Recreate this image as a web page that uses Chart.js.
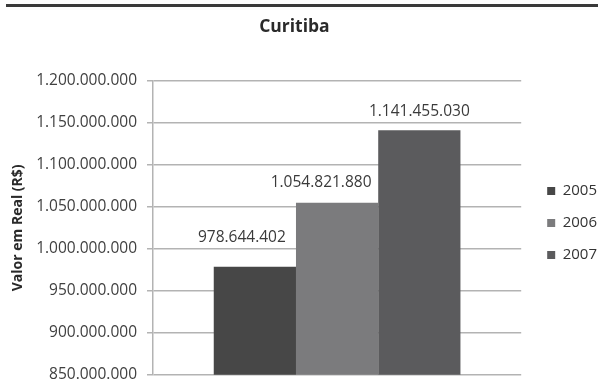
<!DOCTYPE html>
<html lang="pt-BR">
<head>
<meta charset="utf-8">
<title>Curitiba</title>
<script src="https://cdn.jsdelivr.net/npm/chart.js@4.4.1/dist/chart.umd.min.js"></script>
<style>
  html, body { margin: 0; padding: 0; background: #fff; overflow: hidden; }
  #quadro { position: relative; width: 598px; height: 381px; overflow: hidden; }
  #quadro .linha { position: absolute; left: 6px; right: 0; top: 4px; height: 3px; background: #3a3a3a; }
  #caixa { position: absolute; left: 0; top: 0; width: 598px; height: 394px; }
</style>
</head>
<body>
<div id="quadro">
  <div class="linha"></div>
  <div id="caixa"><canvas id="grafico"></canvas></div>
</div>
<script>
// Valor em real por ano - Curitiba
const anos = ['2005', '2006', '2007'];
const valores = [978644402, 1054821880, 1141455030];
const cores = ['#474747', '#7b7b7d', '#5b5b5d'];

// eixo Y
const eixoMin = 850000000;
const eixoMax = 1200000000;
const eixoPasso = 50000000;

const fonte = "'Open Sans', 'Liberation Sans', sans-serif";

// 1234567 -> 1.234.567
function pontos(v) {
    return Math.round(v).toString().replace(/\B(?=(\d{3})+(?!\d))/g, '.');
}

// escreve o valor em cima de cada barra
const rotulos = {
    id: 'rotulos',
    afterDatasetsDraw(chart, args, opts) {
        const ctx = chart.ctx;
        ctx.save();
        ctx.font = '15.5px ' + fonte;
        ctx.fillStyle = opts.cor;
        ctx.textAlign = 'center';
        ctx.textBaseline = 'middle';
        chart.data.datasets.forEach((ds, i) => {
            const barra = chart.getDatasetMeta(i).data[0];
            ctx.fillText(pontos(ds.data[0]), barra.x + opts.desvioX[i], barra.y - opts.desvioY[i]);
        });
        ctx.restore();
    }
};

const datasets = anos.map((ano, i) => ({
    label: ano,
    data: [valores[i]],
    backgroundColor: cores[i],
    borderWidth: 0,
    categoryPercentage: 0.67,
    barPercentage: 1.0
}));

new Chart(document.getElementById('grafico'), {
    type: 'bar',
    data: {
        labels: [''],
        datasets: datasets
    },
    plugins: [rotulos],
    options: {
        responsive: true,
        maintainAspectRatio: false,
        animation: false,
        layout: {
            padding: { top: 9, left: 0, right: -9, bottom: 0 }
        },
        plugins: {
            title: {
                display: true,
                text: 'Curitiba\u00a0\u00a0\u00a0\u00a0',
                color: '#2a2a2a',
                font: { family: fonte, size: 17.5, weight: 'bold' },
                padding: { top: 7.5, bottom: 43.5 }
            },
            legend: {
                position: 'right',
                title: {
                    display: true,
                    text: ' ',
                    font: { size: 10 },
                    padding: { top: 31, bottom: 0 }
                },
                labels: {
                    boxWidth: 8,
                    boxHeight: 8,
                    padding: 17,
                    color: '#333',
                    font: { family: fonte, size: 15 }
                }
            },
            tooltip: { enabled: false },
            rotulos: {
                cor: '#3a3a3a',
                desvioX: [-13, -16, 0],
                desvioY: [29, 20, 19]
            }
        },
        scales: {
            x: { display: false },
            y: {
                min: eixoMin,
                max: eixoMax,
                ticks: {
                    stepSize: eixoPasso,
                    color: '#404040',
                    padding: 10,
                    font: { family: fonte, size: 15.5 },
                    callback: v => pontos(v)
                },
                grid: { color: '#b3b3b3', lineWidth: 1.5, tickLength: 6 },
                border: { color: '#b3b3b3', width: 1.5 },
                title: {
                    display: true,
                    text: 'Valor em Real (R$)',
                    color: '#2a2a2a',
                    font: { family: fonte, size: 14, weight: 'bold' },
                    padding: { top: 10, bottom: 4 }
                },
                afterFit(s) { s.width = 153; }
            },
            // espaço entre a área do gráfico e a legenda
            folga: {
                type: 'linear',
                position: 'right',
                grid: { display: false },
                border: { display: false },
                ticks: { display: false },
                afterFit(s) { s.width = 9; }
            }
        }
    }
});
</script>
</body>
</html>
